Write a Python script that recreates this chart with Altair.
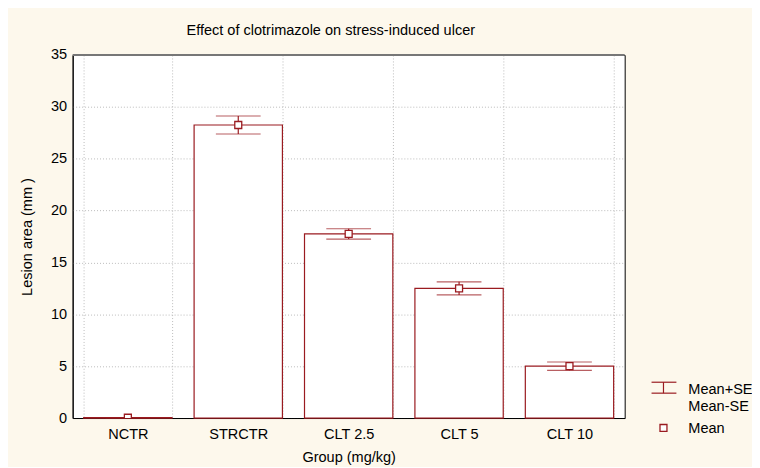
import altair as alt
import pandas as pd

groups = ["NCTR", "STRCTR", "CLT 2.5", "CLT 5", "CLT 10"]
means = [0.03, 28.25, 17.75, 12.5, 5.0]
se = [0.02, 0.87, 0.5, 0.63, 0.4]

df = pd.DataFrame({
    "group": groups,
    "mean": means,
    "upper": [m + s for m, s in zip(means, se)],
    "lower": [m - s for m, s in zip(means, se)],
})

RED = "#9A1B20"
FONT = "Liberation Sans"
FS = 14.6
W, H = 555, 365

xenc = alt.X("group:N", sort=groups, title="Group (mg/kg)",
             scale=alt.Scale(paddingInner=0.2, paddingOuter=0.1),
             axis=alt.Axis(labelAngle=0, tickBand="extent", grid=True,
                           gridDash=[1, 2], gridColor="#BBBBBB",
                           domainColor="black", tickColor="black", tickSize=0,
                           labelPadding=9, titlePadding=8))
yscale = alt.Scale(domain=[0, 35], nice=False)
yaxis = alt.Axis(values=[0, 5, 10, 15, 20, 25, 30, 35], grid=True,
                 gridDash=[1, 2], gridColor="#BBBBBB", domainColor="black",
                 tickSize=0, labelPadding=6, titlePadding=16,
                 title="Lesion area (mm )")

base = alt.Chart(df)

bars = base.mark_bar(fill="white", stroke=RED, strokeWidth=1.2).encode(
    x=xenc, y=alt.Y("mean:Q", scale=yscale, axis=yaxis))

err = base.mark_rule(color=RED, strokeWidth=1.2).encode(
    x=alt.X("group:N", sort=groups), y="lower:Q", y2="upper:Q")

cap_up = base.mark_tick(color=RED, orient="horizontal", size=45,
                        thickness=1.2).encode(
    x=alt.X("group:N", sort=groups), y="upper:Q")
cap_lo = base.mark_tick(color=RED, orient="horizontal", size=45,
                        thickness=1.2).encode(
    x=alt.X("group:N", sort=groups), y="lower:Q")

pts = base.mark_point(shape="square", size=49, filled=True, fill="white",
                      stroke=RED, strokeWidth=1.3, opacity=1, clip=True).encode(
    x=alt.X("group:N", sort=groups), y="mean:Q")

one = alt.Data(values=[{"k": 1}])

top_line = alt.Chart(one).mark_rule(color="#777777", strokeWidth=2).encode(
    x=alt.value(0), x2=alt.value(W), y=alt.value(0))

# legend (drawn outside the plot area)
lx, ly = 594, 329
leg_cap1 = alt.Chart(one).mark_rule(color=RED, strokeWidth=1.2).encode(
    x=alt.value(lx - 12), x2=alt.value(lx + 13), y=alt.value(ly))
leg_cap2 = alt.Chart(one).mark_rule(color=RED, strokeWidth=1.2).encode(
    x=alt.value(lx - 12), x2=alt.value(lx + 13), y=alt.value(ly + 11))
leg_vert = alt.Chart(one).mark_rule(color=RED, strokeWidth=1.2).encode(
    x=alt.value(lx), y=alt.value(ly), y2=alt.value(ly + 11))
leg_sq = alt.Chart(one).mark_point(shape="square", size=49, filled=True,
                                   fill="white", stroke=RED, strokeWidth=1.3,
                                   opacity=1).encode(
    x=alt.value(lx), y=alt.value(375))
leg_t1 = alt.Chart(one).mark_text(align="left", baseline="middle", font=FONT,
                                  fontSize=FS, color="black").encode(
    x=alt.value(619), y=alt.value(337), text=alt.value("Mean+SE"))
leg_t2 = alt.Chart(one).mark_text(align="left", baseline="middle", font=FONT,
                                  fontSize=FS, color="black").encode(
    x=alt.value(619), y=alt.value(354), text=alt.value("Mean-SE"))
leg_t3 = alt.Chart(one).mark_text(align="left", baseline="middle", font=FONT,
                                  fontSize=FS, color="black").encode(
    x=alt.value(619), y=alt.value(376), text=alt.value("Mean"))

chart = alt.layer(
    bars, err, cap_up, cap_lo, pts, top_line,
    leg_cap1, leg_cap2, leg_vert, leg_sq, leg_t1, leg_t2, leg_t3,
).properties(
    width=W, height=H,
    title=alt.TitleParams("Effect of clotrimazole on stress-induced ulcer",
                          font=FONT, fontSize=FS, fontWeight="normal",
                          color="black", anchor="middle", offset=9, dx=-18),
    autosize=alt.AutoSizeParams(type="none"),
    padding={"left": 65, "top": 46, "right": 128, "bottom": 48},
    background="#FDF8EC",
).configure_view(
    fill="white", stroke="black", strokeWidth=1,
).configure_axis(
    labelFont=FONT, titleFont=FONT, labelFontSize=FS, titleFontSize=FS,
    labelColor="black", titleColor="black", titleFontWeight="normal",
)

chart.save("out.html", embed_options={"renderer": "svg", "actions": False})
